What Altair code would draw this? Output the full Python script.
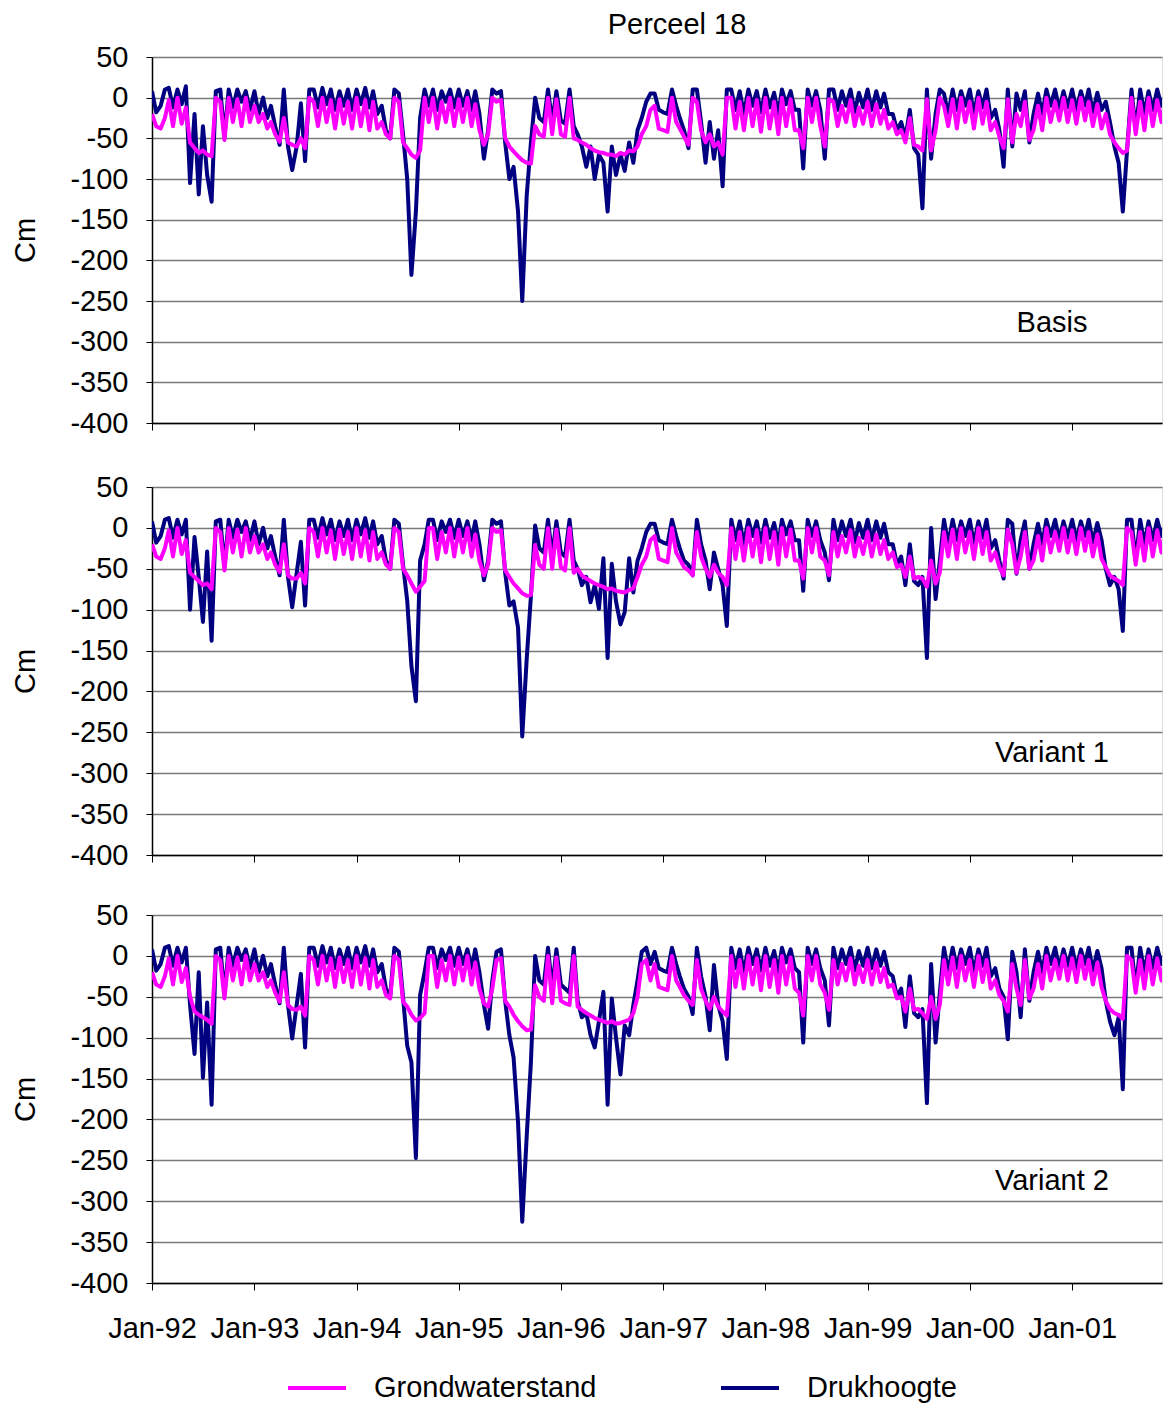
import altair as alt
import pandas as pd

FONT = "Liberation Sans"
TITLE = "Perceel 18"
PANEL_NAMES = ["Basis", "Variant 1", "Variant 2"]
SERIES = ["Grondwaterstand", "Drukhoogte"]
COLORS = ["#FF00FF", "#000080"]
YEARS = list(range(1992, 2002))

# semi-monthly sample dates (1st and 16th of each month)
DATES = [f"{y}-{m:02d}-{d:02d}" for y in YEARS for m in range(1, 13) for d in (1, 16)]

BASIS_DRUK = [
    8, -18, -10, 10, 12, -12, 10, -8, 14, -105, -20, -119, -35, -95, -128, 8, 10, -48, 10, -12, 10, -5, 8, -15,
    8, -20, 0, -25, -10, -35, -58, 10, -60, -89, -60, -7, -78, 10, 10, -12, 12, -8, 10, -15, 8, -10, 10, -15,
    10, -8, 12, -12, 8, -20, -10, -40, -50, 10, 5, -45, -100, -218, -140, -25, 10, -10, 10, -15, 8, -5, 10, -12,
    10, -10, 8, -15, 8, -20, -75, -40, 10, 5, 8, -55, -100, -85, -140, -250, -120, -55, 0, -25, -30, 10, -30, 8,
    -28, -32, 10, -35, -45, -60, -85, -60, -100, -70, -80, -140, -60, -95, -70, -90, -55, -80, -40, -25, -5, 5, 5, -15,
    -18, -20, 10, -10, -25, -40, -62, 10, 10, -30, -80, -30, -75, -40, -109, 10, 10, -15, 8, -20, 10, -10, 8, -18,
    10, -12, 6, -20, 10, -8, 8, -15, -15, -87, 10, -10, 8, -15, -75, 10, 10, -15, 8, -10, 10, -18, 6, -12,
    10, -15, 8, -12, 5, -20, -20, -40, -30, -50, -15, -62, -70, -136, 10, -75, -20, 10, 5, -20, 10, -15, 8, -10,
    10, -20, 8, -12, 10, -25, -15, -40, -85, 10, -60, 5, -15, 8, -55, -20, 5, -20, 10, -10, 10, -15, 8, -12,
    10, -15, 8, -10, 10, -18, 6, -15, -5, -30, -60, -80, -140, -65, 10, -40, 10, -20, 8, -15, 10, -10, 8, -15,
]
BASIS_GROND = [
    -20, -35, -38, -25, -3, -35, 0, -32, -12, -55, -62, -68, -65, -70, -72, 0, -5, -52, 0, -30, -2, -35, 0, -30,
    -10, -30, -20, -38, -30, -45, -54, -25, -55, -58, -60, -50, -62, 0, -5, -35, 0, -30, -3, -38, -2, -32, -5, -38,
    0, -35, -3, -40, -5, -38, -30, -45, -50, 0, -5, -55, -62, -70, -74, -65, 0, -30, 0, -38, -5, -30, 0, -35,
    -2, -30, 0, -35, -8, -40, -58, -45, 0, -5, -3, -50, -60, -66, -72, -77, -80, -81, -35, -45, -48, 0, -45, -2,
    -45, -48, 0, -50, -52, -55, -58, -62, -65, -67, -68, -70, -70, -72, -68, -70, -65, -66, -60, -45, -35, -15, -10, -38,
    -40, -42, 0, -30, -38, -48, -58, 0, -5, -40, -55, -45, -60, -55, -70, 0, 0, -38, -5, -40, 0, -35, -3, -42,
    0, -38, -5, -45, 0, -35, -2, -40, -40, -62, 0, -30, 0, -35, -60, -2, -5, -35, -10, -30, -3, -35, -12, -32,
    -5, -35, -8, -32, -15, -38, -30, -45, -40, -55, -25, -58, -60, -65, -2, -65, -40, 0, -10, -35, -2, -38, 0, -30,
    -5, -38, 0, -32, -5, -40, -30, -48, -62, -2, -55, -20, -35, -5, -52, -40, -10, -40, 0, -30, -5, -28, 0, -30,
    -3, -32, 0, -28, -5, -35, -8, -38, -20, -45, -55, -62, -68, -65, 0, -45, -5, -40, 0, -35, -3, -30, 0, -35,
]
V1_DRUK = [
    8, -18, -10, 10, 12, -12, 10, -8, 10, -100, -11, -60, -115, -29, -138, 8, 10, -48, 10, -12, 10, -5, 8, -15,
    8, -20, 0, -25, -10, -35, -58, 10, -60, -97, -55, -17, -95, 10, 10, -12, 12, -8, 10, -15, 8, -10, 10, -15,
    10, -8, 12, -12, 8, -20, -10, -40, -50, 10, 5, -45, -89, -169, -212, -40, -20, 10, 10, -15, 8, -5, 10, -12,
    10, -10, 8, -15, 8, -20, -64, -40, 10, 5, 8, -55, -95, -90, -122, -255, -160, -83, 3, -25, -30, 10, -35, 8,
    -30, -35, 10, -40, -50, -70, -60, -91, -70, -99, -37, -159, -44, -90, -118, -103, -37, -79, -40, -25, -5, 5, 5, -15,
    -18, -20, 10, -10, -25, -40, -45, -58, 10, -20, -40, -75, -30, -50, -70, -120, 10, -15, 8, -20, 10, -10, 8, -18,
    10, -12, 6, -20, 10, -8, 8, -15, -15, -77, 10, -10, 8, -15, -30, -64, 10, -15, 8, -10, 10, -18, 6, -12,
    10, -15, 8, -12, 5, -20, -20, -45, -35, -70, -20, -65, -70, -60, -159, 0, -87, -40, 10, -20, 10, -15, 8, -10,
    10, -20, 8, -12, 10, -25, -15, -40, -62, 10, 5, -56, -15, 8, -50, -20, 5, -20, 10, -10, 10, -15, 8, -12,
    10, -15, 8, -10, 10, -18, 6, -15, -50, -70, -60, -75, -126, 10, 10, -40, 10, -20, 8, -15, 10, -10, 8, -15,
]
V1_GROND = [
    -20, -35, -38, -25, -3, -35, 0, -32, -15, -55, -60, -65, -70, -68, -75, 0, -5, -52, 0, -30, -2, -35, 0, -30,
    -10, -30, -20, -38, -30, -45, -54, -20, -58, -62, -62, -55, -68, 0, -5, -35, 0, -30, -3, -38, -2, -32, -5, -38,
    0, -35, -3, -40, -5, -38, -30, -45, -50, 0, -5, -50, -58, -68, -78, -72, -65, 0, 0, -38, -5, -30, 0, -35,
    -2, -30, 0, -35, -8, -40, -58, -45, 0, -5, -3, -52, -60, -68, -74, -80, -83, -82, -21, -45, -50, 0, -50, -2,
    -48, -52, 0, -55, -50, -58, -62, -65, -68, -70, -72, -75, -74, -77, -78, -79, -76, -74, -60, -45, -35, -15, -10, -38,
    -40, -42, 0, -30, -38, -48, -52, -58, -5, -35, -50, -60, -45, -55, -60, -70, 0, -38, -5, -40, 0, -35, -3, -42,
    0, -38, -5, -45, 0, -35, -2, -40, -40, -62, 0, -30, 0, -35, -40, -58, -5, -35, -10, -30, -3, -35, -12, -32,
    -5, -35, -8, -32, -15, -38, -30, -48, -45, -60, -35, -62, -60, -62, -72, -40, -68, -55, -5, -35, -2, -38, 0, -30,
    -5, -38, 0, -32, -5, -40, -30, -48, -58, -2, -20, -55, -35, -5, -50, -40, -10, -40, 0, -30, -5, -28, 0, -30,
    -3, -32, 0, -28, -5, -35, -8, -38, -48, -58, -62, -65, -70, 0, -5, -45, -5, -40, 0, -35, -3, -30, 0, -35,
]
V2_DRUK = [
    8, -18, -10, 10, 12, -12, 10, -8, 10, -60, -120, -20, -149, -57, -182, 8, 10, -48, 10, -12, 10, -5, 8, -15,
    8, -20, 0, -25, -10, -35, -58, 10, -60, -101, -60, -22, -112, 10, 10, -12, 12, -8, 10, -15, 8, -10, 10, -15,
    10, -8, 12, -12, 8, -20, -10, -40, -50, 10, 5, -50, -110, -130, -247, -48, -20, 10, 10, -15, 8, -5, 10, -12,
    10, -10, 8, -15, 8, -20, -60, -89, -30, 5, 8, -55, -97, -124, -204, -325, -220, -130, 0, -30, -35, 10, -40, 8,
    -35, -40, -45, 10, -55, -75, -70, -97, -112, -80, -44, -182, -52, -100, -145, -85, -97, -60, -30, 5, 10, -10, 5, -15,
    -18, -20, 10, -10, -25, -40, -50, -71, 10, -25, -50, -91, -11, -60, -80, -126, 10, -15, 8, -20, 10, -10, 8, -18,
    10, -12, 6, -20, 10, -8, 8, -15, -20, -106, 10, -10, 8, -15, -30, -85, 10, -15, 8, -10, 10, -18, 6, -12,
    10, -15, 8, -12, 5, -20, -25, -50, -40, -87, -25, -70, -75, -65, -180, -10, -106, -45, 10, -20, 10, -15, 8, -10,
    10, -20, 8, -12, 10, -25, -15, -40, -50, -102, 5, -20, -75, 8, -55, -20, 5, -20, 10, -10, 10, -15, 8, -12,
    10, -15, 8, -10, 10, -18, 6, -15, -55, -80, -97, -75, -163, 10, 10, -40, 10, -20, 8, -15, 10, -10, 8, -15,
]
V2_GROND = [
    -20, -35, -38, -25, -3, -35, 0, -32, -15, -50, -68, -72, -75, -78, -83, 0, -5, -52, 0, -30, -2, -35, 0, -30,
    -10, -30, -20, -38, -30, -45, -56, -20, -60, -65, -66, -62, -73, 0, -5, -35, 0, -30, -3, -38, -2, -32, -5, -38,
    0, -35, -3, -40, -5, -38, -30, -48, -52, 0, -5, -56, -62, -72, -79, -76, -70, 0, 0, -38, -5, -30, 0, -35,
    -2, -30, 0, -35, -8, -40, -58, -62, -40, -5, -3, -55, -62, -72, -80, -86, -91, -90, -36, -50, -55, 0, -58, -2,
    -55, -58, -60, 0, -62, -66, -70, -73, -76, -78, -80, -82, -80, -83, -82, -80, -78, -70, -50, -10, -5, -30, -10, -38,
    -40, -42, 0, -30, -38, -48, -55, -60, -5, -40, -55, -65, -50, -62, -68, -73, 0, -38, -5, -40, 0, -35, -3, -42,
    0, -38, -5, -45, 0, -35, -2, -40, -45, -73, 0, -30, 0, -35, -45, -66, -5, -35, -10, -30, -3, -35, -12, -32,
    -5, -35, -8, -32, -15, -38, -35, -52, -50, -68, -40, -66, -65, -70, -77, -50, -77, -60, -5, -35, -2, -38, 0, -30,
    -5, -38, 0, -32, -5, -40, -30, -48, -55, -68, -10, -40, -60, -5, -52, -40, -10, -40, 0, -30, -5, -28, 0, -30,
    -3, -32, 0, -28, -5, -35, -8, -38, -55, -65, -70, -72, -77, 0, -5, -45, -5, -40, 0, -35, -3, -30, 0, -35,
]

PANELS = [
    (PANEL_NAMES[0], BASIS_DRUK, BASIS_GROND),
    (PANEL_NAMES[1], V1_DRUK, V1_GROND),
    (PANEL_NAMES[2], V2_DRUK, V2_GROND),
]
Y_TICKS = list(range(-400, 51, 50))
X_TICKS = [alt.DateTime(year=y, month=1, date=1, utc=True) for y in YEARS]

W = 1010
HEIGHTS = [366, 368, 368]


def make_panel(i, name, druk, grond):
    n = len(DATES)
    df = pd.DataFrame({
        "date": DATES + DATES,
        "value": druk + grond,
        "series": ["Drukhoogte"] * n + ["Grondwaterstand"] * n,
    })
    last = i == 2
    x = alt.X(
        "date:T",
        scale=alt.Scale(type="utc", domain=[alt.DateTime(year=1992, month=1, date=1, utc=True),
                                             alt.DateTime(year=2001, month=11, date=18, utc=True)]),
        axis=alt.Axis(values=X_TICKS, format="%b-%y", labels=last, grid=False, title=None,
                      tickSize=7, tickColor="black", domainColor="black", domainWidth=1.5,
                      labelFontSize=29, labelFont=FONT, labelColor="black", labelPadding=24,
                      labelFlush=False, labelOverlap=False),
    )
    y = alt.Y(
        "value:Q",
        scale=alt.Scale(domain=[-400, 50], nice=False, zero=False),
        axis=alt.Axis(values=Y_TICKS, title="Cm", titleFontSize=29, titleFont=FONT,
                      titleFontWeight="normal", titleColor="black", titlePadding=29,
                      labelFontSize=29, labelFont=FONT, labelColor="black", labelPadding=18,
                      labelExpr="toString(datum.value)",
                      tickSize=6, tickColor="black", domainColor="black", domainWidth=1.5,
                      grid=True, gridColor="#7a7a7a", gridWidth=1.5),
    )
    legend = alt.Legend(orient="none", legendX=134, legendY=1300, direction="horizontal",
                        title=None, symbolType="stroke", symbolSize=3364, symbolStrokeWidth=4,
                        labelFontSize=29, labelFont=FONT, labelColor="black", labelOffset=26,
                        columnPadding=116, labelLimit=500)
    color = alt.Color("series:N", scale=alt.Scale(domain=SERIES, range=COLORS), legend=legend)
    base = alt.Chart(df).encode(x=x, y=y, color=color)
    navy = base.transform_filter(alt.datum.series == "Drukhoogte").mark_line(
        strokeWidth=4, strokeJoin="round", clip=True)
    mag = base.transform_filter(alt.datum.series == "Grondwaterstand").mark_line(
        strokeWidth=4, strokeJoin="round", clip=True)
    label = alt.Chart(pd.DataFrame({"t": [name]})).mark_text(
        fontSize=29, font=FONT, color="black", align="center", baseline="middle"
    ).encode(text="t:N", x=alt.value(900), y=alt.value(266))
    layers = [navy, mag, label]
    if i == 0:
        title = alt.Chart(pd.DataFrame({"t": [TITLE]})).mark_text(
            fontSize=29, font=FONT, color="black", align="center", baseline="middle"
        ).encode(text="t:N", x=alt.value(525), y=alt.value(-32))
        layers.append(title)
    return alt.layer(*layers).properties(width=W, height=HEIGHTS[i])


panels = [make_panel(i, *p) for i, p in enumerate(PANELS)]
lower = alt.vconcat(panels[1], panels[2], spacing=29)
chart = alt.vconcat(panels[0], lower, spacing=33).resolve_scale(color="shared").properties(
    padding={"left": 3, "top": 2, "right": 0, "bottom": 0}
).configure_view(stroke=None).configure(background="white")

chart.save("out.html", embed_options={"renderer": "svg", "actions": False})
